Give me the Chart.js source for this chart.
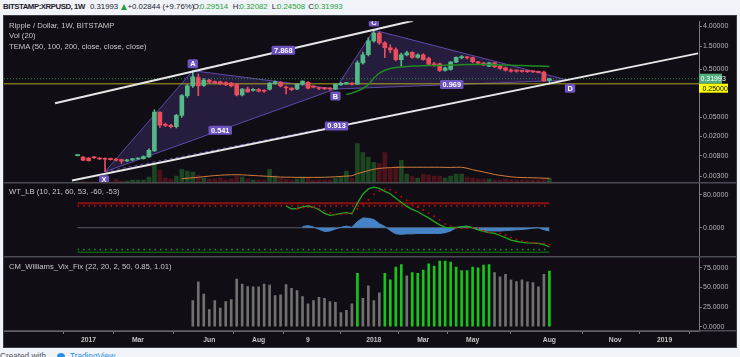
<!DOCTYPE html>
<html><head><meta charset="utf-8">
<script src="https://cdn.jsdelivr.net/npm/chart.js@4.4.1/dist/chart.umd.min.js"></script>
<style>
html,body{margin:0;padding:0;background:#f0f3f7;width:740px;height:357px;overflow:hidden;font-family:"Liberation Sans",Arial,sans-serif;}
#wrap{position:absolute;left:4px;top:16px;width:732px;height:331px;box-shadow:0 0 0 1px #3c3c44;}
canvas{display:block}
.t{position:absolute;white-space:nowrap;line-height:1;}
.h{position:absolute;white-space:nowrap;line-height:1;top:3.4px;font-size:7.8px;color:#1e222d;}
.g{color:#22a33a;}
.lg{font-size:7.7px;color:#c8c8c8;}
.tri{position:absolute;left:120.5px;top:4px;width:0;height:0;border-left:3px solid transparent;border-right:3px solid transparent;border-bottom:6px solid #22a33a;}
</style></head>
<body>
<div class="h" style="left:3px;font-weight:bold;letter-spacing:-0.45px;">BITSTAMP:XRPUSD, 1W</div>
<div class="h" style="left:90px;">0.31993</div>
<div class="tri"></div>
<div class="h" style="left:127.5px;">+0.02844 (+9.76%)</div>
<div class="h" style="left:192.7px;">O:</div><div class="h g" style="left:200px;">0.29514</div>
<div class="h" style="left:232.7px;">H:</div><div class="h g" style="left:239.5px;">0.32082</div>
<div class="h" style="left:271.7px;">L:</div><div class="h g" style="left:277px;">0.24508</div>
<div class="h" style="left:308.3px;">C:</div><div class="h g" style="left:314.5px;">0.31993</div>

<div id="wrap"><canvas id="c" width="732" height="331"></canvas></div>

<div class="t lg" style="left:9px;top:22.3px;">Ripple / Dollar, 1W, BITSTAMP</div>
<div class="t lg" style="left:9px;top:32.3px;">Vol (20)</div>
<div class="t lg" style="left:9px;top:43px;">TEMA (50, 100, 200, close, close, close)</div>
<div class="t lg" style="left:9px;top:187.6px;">WT_LB (10, 21, 60, 53, -60, -53)</div>
<div class="t lg" style="left:9px;top:262.6px;">CM_Williams_Vix_Fix (22, 20, 2, 50, 0.85, 1.01)</div>

<div class="t" style="left:0px;top:352.9px;font-size:8.2px;color:#50535e;">Created with</div>
<div class="t" style="left:57px;top:353px;width:8px;height:6px;border-radius:4px 4px 0 0;background:#2a8fe0;"></div>
<div class="t" style="left:70px;top:352.9px;font-size:8.2px;color:#2a8fe0;">TradingView</div>

<script>
// ---------------- DATA (weekly, index 0 = week of 2016-12-19) ----------------
const weekStart = '2016-12-19';
const open = [0.0080,0.0074,0.0071,0.0075,0.0071,0.0070,0.0069,0.0068,0.0066,0.0062,
 0.0065,0.0068,0.0069,0.0075,0.0100,0.064,0.036,0.034,0.032,0.055,
 0.142,0.227,0.338,0.232,0.30,0.28,0.275,0.265,0.26,0.24,
 0.147,0.195,0.183,0.19,0.18,0.194,0.255,0.27,0.215,0.205,
 0.195,0.246,0.27,0.224,0.21,0.205,0.203,0.194,0.24,0.25,
 0.26,0.245,0.686,1.01,1.96,2.87,1.79,1.41,1.30,0.80,
 1.00,1.13,0.893,1.01,0.84,0.654,0.65,0.477,0.50,0.71,
 0.88,0.89,0.88,0.72,0.68,0.584,0.686,0.584,0.542,0.484,
 0.47,0.465,0.455,0.45,0.449,0.44,0.29514];
const high = [0.0083,0.0076,0.0073,0.0077,0.0073,0.0072,0.0071,0.0070,0.0068,0.0067,
 0.0070,0.0072,0.0079,0.0110,0.072,0.066,0.038,0.036,0.058,0.150,
 0.24,0.47,0.40,0.32,0.31,0.29,0.285,0.275,0.27,0.255,
 0.20,0.215,0.20,0.20,0.19,0.265,0.29,0.28,0.225,0.21,
 0.25,0.29,0.28,0.23,0.215,0.21,0.21,0.25,0.265,0.27,
 0.265,0.75,1.15,2.3,3.30,2.95,1.90,1.62,1.40,1.10,
 1.20,1.17,1.05,1.05,0.90,0.70,0.68,0.56,0.74,0.91,
 0.97,0.94,0.90,0.74,0.70,0.70,0.70,0.60,0.56,0.51,
 0.49,0.48,0.47,0.46,0.46,0.46,0.32082];
const low = [0.0079,0.0063,0.0061,0.0070,0.0066,0.0037,0.0064,0.0062,0.0055,0.0060,
 0.0063,0.0066,0.0067,0.0073,0.0098,0.031,0.032,0.030,0.030,0.050,
 0.13,0.21,0.142,0.22,0.26,0.25,0.24,0.23,0.215,0.14,
 0.14,0.165,0.175,0.17,0.165,0.185,0.245,0.215,0.154,0.18,
 0.19,0.235,0.195,0.205,0.19,0.19,0.185,0.19,0.232,0.245,
 0.235,0.24,0.64,0.95,1.85,1.65,0.88,1.10,0.75,0.58,
 0.95,0.85,0.85,0.78,0.60,0.58,0.45,0.46,0.48,0.69,
 0.83,0.83,0.68,0.64,0.60,0.57,0.54,0.50,0.46,0.44,
 0.44,0.44,0.43,0.43,0.42,0.28,0.24508];
const close = [0.0081,0.0064,0.0063,0.0072,0.0068,0.0067,0.0066,0.0064,0.0061,0.0065,
 0.0068,0.0070,0.0076,0.0103,0.0648,0.0344,0.034,0.032,0.055,0.142,
 0.227,0.348,0.227,0.298,0.27,0.26,0.25,0.24,0.227,0.147,
 0.195,0.17,0.19,0.175,0.175,0.258,0.275,0.225,0.205,0.19,
 0.246,0.284,0.204,0.212,0.20,0.198,0.195,0.246,0.255,0.265,
 0.245,0.686,1.01,1.96,2.87,1.79,1.41,1.28,0.80,1.01,
 1.11,0.893,1.01,0.80,0.633,0.62,0.477,0.542,0.71,0.893,
 0.893,0.87,0.72,0.67,0.62,0.686,0.568,0.524,0.484,0.46,
 0.46,0.455,0.45,0.445,0.434,0.288,0.31993];
// volume (millions XRP, estimated)
const volume = [20,30,20,20,20,40,20,80,40,40, 60,60,60,120,360,260,100,80,140,280,
 240,220,160,100,80,80,100,60,80,140, 120,80,60,60,60,280,140,100,80,60,
 80,120,100,60,60,60,60,100,120,240, 100,800,620,520,420,400,620,300,340,460,
 180,140,100,180,160,140,140,100,140,180, 180,120,100,80,80,80,60,60,80,60,
 60,60,60,60,60,80,100];
const volMAStart = 19;
const volMA = [86,96,106,116,128,140,150,158,164,168, 168,166,160,152,146,140,134,126,120,118,
 116,114,114,114,114,114,116,120,126,134, 140,146,190,220,250,280,296,306,312,316,
 320,320,320,320,320,320,320,320,318,316, 320,320,300,270,246,224,200,172,156,140,
 124,116,110,108,106,102,98,94];
const temaStart = 49;
const tema = [0.150,0.160,0.177,0.200,0.240,0.33,0.42,0.48,0.52,0.545,
 0.56,0.575,0.585,0.59,0.595,0.60,0.60,0.605,0.61,0.615,
 0.62,0.625,0.63,0.632,0.633,0.632,0.63,0.625,0.62,0.615,
 0.61,0.605,0.60,0.595,0.59,0.585,0.58,0.575];
const lastPrice = 0.31993;
const alertLevel = 0.25;
// XABCD pattern points [week index, price] and ratios
const patternPts = {X:[5,0.0037], A:[21,0.47], B:[47,0.195], C:[54,3.30], D:[89.4,0.298]};
const ratioPairs = [['X','B'],['A','C'],['B','D'],['X','D']];
const ratioLabels = ['0.541','7.868','0.969','0.913'];
// parallel channel lines [week index, price]
const channelUpper = [[-4.12,0.0982],[61.14,5.17]];
const channelLower = [[-1.02,0.00242],[113.1,1.079]];
// WT_LB
const wtLevels = [60, 53, -53, -60];
const wt1Start = 38;
const wt1 = [53,46,47,51,53,50,44,35,30,32, 35,37,34,60,82,95,99,96,89,83,
 72,62,52,45,39,31,24,15,7,1, 0,1,2,3,0,-5,-9,-12,-14,-19,
 -24,-30,-33,-36,-37,-37.5,-38,-41,-47];
const wt2Start = 40;
const wt2 = [46,49,50,50,47,42,36,33,33,34, 37,46,58,68,82,90,94,93,86,76,
 67,58,50,43,36,28,19,9,4,-1, -2,-1.5,0,-1.5,-7,-11,-10,-14,-18,-24,
 -28,-32,-35,-37,-38,-38.5,-41.5];
const histStart = 41;
const wtHist = [3,5,2,-4,-9,-8,-3,1,4,1, 15,24,23,20,10,3,-7,-15,-16,-15,
 -15,-14,-14,-14,-14,-14,-12,-8,0,3, 4,-1,-4,-7,-8,-8,-8,-7,-6,-5,
 -4,-3,-1,0,-5,-8];
// CM_Williams_Vix_Fix
const vixStart = 21;
const vix = [33.4,57.1,41.7,21.7,33.4,23.7,32.1,34.6,60.5,54.2,
 51.2,50.9,50.9,54.2,53,39.6,40.5,53.7,48.7,45.9,
 38.4,29.2,33.4,37.5,36.2,32.1,31.2,18,20.9,29.2,
 68,36.2,52.1,33.4,43,68,59.6,75.9,79.2,64.6,
 68.8,68,72.1,80,77.1,83.4,83.4,82.1,75.9,71.3,
 71.3,75.9,75,78.4,79.2,68.8,63.4,66.7,59.6,57.5,
 59.6,57.1,56.2,50.9,66.7,70.9];
const vixSignal = [0,0,0,0,0,0,0,0,0,0, 0,0,0,0,0,0,0,0,0,0, 0,0,0,0,0,0,0,0,0,0,
 1,0,0,0,0,1,1,1,1,0, 1,1,1,1,1,1,1,1,1,1, 1,1,1,1,1,0,0,0,0,0, 0,0,0,0,0,1];
// axis ticks
const priceTicks = [4, 1.5, 0.5, 0.05, 0.02, 0.008, 0.003];
const wtTicks = [80, 0];
const vixTicks = [75, 50, 25, 0];
const timeTickIdx = [2, 11, 24, 33, 42, 54, 63, 72, 86, 98, 107];
const timeTickLbl = ['2017','Mar','Jun','Aug','9','2018','Mar','May','Aug','Nov','2019'];

// ---------------- VIEW RANGES ----------------
const xMin = -13.416, xMax = 113.27;
const priceMin = 0.002148, priceMax = 5.0485;
const wtMin = -70.87, wtMax = 109.3;
const vixMin = -5.375, vixMax = 89;
const volMin = -3010, volMax = 3290;

// ---------------- STYLE ----------------
const FONT = '"Liberation Sans", Arial, sans-serif';
const BG = '#100d14';
const UP = '#53b987', DN = '#eb4d5c';
const PURPLE_LINE = '#5e4aa6', PURPLE_FILL = 'rgba(112,76,205,0.23)', TAG = '#6c53c0';
Chart.defaults.font.family = FONT;

const idx = open.map((_, i) => i);
const up = i => close[i] >= open[i];
const series = (arr, start) => arr.map((v, k) => ({x: start + k, y: v}));
const pt = k => ({x: patternPts[k][0], y: patternPts[k][1]});
const hline = (y, x0, x1) => [{x: x0, y}, {x: x1, y}];

const rightAxis = (extra) => Object.assign({
  position: 'right', stack: 'pane', bounds: 'data',
  afterFit: s => { s.width = 37; },
  grid: {drawOnChartArea: false, tickLength: 3, color: '#7a7a7a'},
  border: {color: '#7a7a7a'},
}, extra);

function tag(g, cx, cy, text, minW) {
  g.font = 'bold 7.4px ' + FONT;
  const w = Math.max(minW || 0, g.measureText(text).width + 5), h = 9;
  g.fillStyle = TAG;
  g.beginPath();
  g.roundRect(cx - w / 2, cy - h / 2, w, h, 1.5);
  g.fill();
  g.fillStyle = '#ffffff';
  g.textAlign = 'center'; g.textBaseline = 'middle';
  g.fillText(text, cx, cy + 0.5);
}

const ui = {
  id: 'ui',
  beforeDraw(c) {
    const g = c.ctx; g.save(); g.fillStyle = BG; g.fillRect(0, 0, c.width, c.height); g.restore();
  },
  afterDatasetsDraw(c) {
    const g = c.ctx, sx = c.scales.x, sy = c.scales.y, a = c.chartArea;
    const P = k => [sx.getPixelForValue(patternPts[k][0]), sy.getPixelForValue(patternPts[k][1])];
    g.save();
    g.beginPath(); g.rect(a.left, a.top, a.width, sy.bottom - a.top); g.clip();
    ratioPairs.forEach(([p, q], k) => {
      const m = P(p), n = P(q);
      tag(g, (m[0] + n[0]) / 2, (m[1] + n[1]) / 2, ratioLabels[k]);
    });
    const off = {X: [-1, 8], A: [0, -7], B: [0, 7], C: [0, -8], D: [2, 8]};
    Object.keys(patternPts).forEach(k => {
      const m = P(k); tag(g, m[0] + off[k][0], m[1] + off[k][1], k, 8);
    });
    g.restore();
  },
  afterDraw(c) {
    const g = c.ctx, sy = c.scales.y, sw = c.scales.yw, a = c.chartArea;
    g.save();
    g.fillStyle = '#4a4a52';
    [sy.bottom, sw.bottom, a.bottom].forEach(y => g.fillRect(0, Math.round(y) - 1, c.width, 1.5));
    // price labels on axis
    const x0 = sy.left;
    const yp = sy.getPixelForValue(lastPrice);
    g.fillStyle = '#4fae7c';
    g.fillRect(x0, yp - 5, 23, 10);
    g.font = '7px ' + FONT; g.textAlign = 'left'; g.textBaseline = 'middle';
    g.fillStyle = '#ffffff';
    g.fillText(lastPrice.toFixed(5), x0 + 1.5, yp + 0.5);
    let ya = sy.getPixelForValue(alertLevel);
    ya = Math.max(ya, yp + 5 + 4.5);
    g.fillStyle = '#ffff00';
    g.fillRect(x0, ya - 4.5, 29, 9);
    g.fillStyle = '#000000';
    g.fillText(alertLevel.toFixed(5), x0 + 3.5, ya + 0.5);
    g.restore();
  }
};

const datasets = [
  // volume
  {type: 'bar', yAxisID: 'yv', data: idx.map(i => ({x: i, y: volume[i]})),
   backgroundColor: idx.map(i => up(i) ? '#1c4522' : '#4c121b'), barThickness: 4, grouped: false, order: 100},
  {type: 'line', yAxisID: 'yv', data: series(volMA, volMAStart), borderColor: '#d07b3c', borderWidth: 1, pointRadius: 0, order: 95},
  // pattern triangles
  {type: 'line', yAxisID: 'y', data: [pt('X'), pt('A'), pt('B'), pt('X')], borderColor: PURPLE_LINE, borderWidth: 1,
   backgroundColor: PURPLE_FILL, fill: 'shape', pointRadius: 0, order: 90},
  {type: 'line', yAxisID: 'y', data: [pt('B'), pt('C'), pt('D'), pt('B')], borderColor: PURPLE_LINE, borderWidth: 1,
   backgroundColor: PURPLE_FILL, fill: 'shape', pointRadius: 0, order: 90},
  {type: 'line', yAxisID: 'y', data: [pt('A'), pt('C')], borderColor: PURPLE_LINE, borderWidth: 1, borderDash: [3, 3], pointRadius: 0, order: 89},
  {type: 'line', yAxisID: 'y', data: [pt('X'), pt('D')], borderColor: PURPLE_LINE, borderWidth: 1, borderDash: [3, 3], pointRadius: 0, order: 89},
  // price lines
  {type: 'line', yAxisID: 'y', data: hline(alertLevel, xMin, xMax), borderColor: '#b3a51e', borderWidth: 1, pointRadius: 0, order: 80},
  {type: 'line', yAxisID: 'y', data: hline(lastPrice, xMin, xMax), borderColor: '#2b8a4a', borderWidth: 1, borderDash: [1, 2], pointRadius: 0, order: 80},
  // candles
  {type: 'bar', yAxisID: 'y', data: idx.map(i => ({x: i, y: [low[i], high[i]]})),
   backgroundColor: idx.map(i => up(i) ? UP : DN), barThickness: 1, grouped: false, order: 70},
  {type: 'bar', yAxisID: 'y', data: idx.map(i => ({x: i, y: [open[i], close[i]]})),
   backgroundColor: idx.map(i => up(i) ? UP : DN), barThickness: 4, minBarLength: 1, grouped: false, order: 65},
  // TEMA
  {type: 'line', yAxisID: 'y', data: series(tema, temaStart), borderColor: '#1d8c21', borderWidth: 1.5, pointRadius: 0, order: 60},
  // channel
  {type: 'line', yAxisID: 'y', data: channelUpper.map(([x, y]) => ({x, y})), borderColor: '#e6e6e6', borderWidth: 2, pointRadius: 0, order: 50},
  {type: 'line', yAxisID: 'y', data: channelLower.map(([x, y]) => ({x, y})), borderColor: '#e6e6e6', borderWidth: 2, pointRadius: 0, order: 50},
  // WT pane
  {type: 'line', yAxisID: 'yw', data: hline(0, 0, 86), borderColor: '#5a5a62', borderWidth: 1, pointRadius: 0, order: 49},
  {type: 'line', yAxisID: 'yw', data: series(wtHist, histStart), borderColor: '#4583c6', borderWidth: 1, backgroundColor: '#4583c6',
   fill: {value: 0}, pointRadius: 0, order: 48},
  {type: 'line', yAxisID: 'yw', data: hline(wtLevels[0], 0, 86), borderColor: '#8a1111', borderWidth: 2, pointRadius: 0, order: 47},
  {type: 'line', yAxisID: 'yw', data: hline(wtLevels[1], 0, 86), borderColor: '#d40f0f', borderWidth: 1.5, borderDash: [1.5, 3.986], pointRadius: 0, order: 47},
  {type: 'line', yAxisID: 'yw', data: hline(wtLevels[2], 0, 86), borderColor: '#1c9a1c', borderWidth: 1.5, borderDash: [1.5, 3.986], pointRadius: 0, order: 47},
  {type: 'line', yAxisID: 'yw', data: hline(wtLevels[3], 0, 86), borderColor: '#0f5c12', borderWidth: 1.5, pointRadius: 0, order: 47},
  {type: 'line', yAxisID: 'yw', data: series(wt1, wt1Start), borderColor: '#22a822', borderWidth: 1.3, pointRadius: 0, order: 45},
  {type: 'line', yAxisID: 'yw', data: series(wt2, wt2Start), showLine: false, pointStyle: 'rect', pointRadius: 1.1,
   pointBackgroundColor: '#e00000', pointBorderWidth: 0, order: 44},
  // Vix fix
  {type: 'bar', yAxisID: 'yx', data: series(vix, vixStart),
   backgroundColor: vixSignal.map(s => s ? '#18c418' : '#707070'), barThickness: 2, grouped: false, order: 40},
];

new Chart(document.getElementById('c'), {
  type: 'bar',
  data: {datasets},
  options: {
    responsive: false, animation: false, devicePixelRatio: 1, events: [],
    layout: {padding: 0, autoPadding: false},
    plugins: {legend: {display: false}, tooltip: {enabled: false}},
    scales: {
      x: {type: 'linear', position: 'bottom', min: xMin, max: xMax, bounds: 'data', offset: false,
          afterBuildTicks: s => { s.ticks = timeTickIdx.map(v => ({value: v})); },
          afterFit: s => { s.height = 16; },
          ticks: {callback: v => timeTickLbl[timeTickIdx.indexOf(v)], color: '#c4c4c4',
                  font: {size: 6.8, weight: 'bold'}, maxRotation: 0, minRotation: 0, autoSkip: false, padding: 2},
          grid: {drawOnChartArea: false, tickLength: 3, color: '#7a7a7a'},
          border: {color: '#7a7a7a'}},
      y: rightAxis({type: 'logarithmic', stackWeight: 164.5, min: priceMin, max: priceMax,
          afterBuildTicks: s => { s.ticks = priceTicks.map(v => ({value: v})); },
          ticks: {callback: v => Number(v).toFixed(5), color: '#b4b4b4', font: {size: 7}, padding: 1, autoSkip: false}}),
      yw: rightAxis({type: 'linear', stackWeight: 75, min: wtMin, max: wtMax,
          afterBuildTicks: s => { s.ticks = wtTicks.map(v => ({value: v})); },
          ticks: {callback: v => Number(v).toFixed(4), color: '#b4b4b4', font: {size: 7}, padding: 1, autoSkip: false}}),
      yx: rightAxis({type: 'linear', stackWeight: 75.5, min: vixMin, max: vixMax,
          afterBuildTicks: s => { s.ticks = vixTicks.map(v => ({value: v})); },
          ticks: {callback: v => Number(v).toFixed(4), color: '#b4b4b4', font: {size: 7}, padding: 1, autoSkip: false}}),
      yv: {type: 'linear', position: 'left', display: false, min: volMin, max: volMax, bounds: 'data'}
    }
  },
  plugins: [ui]
});
</script>
</body></html>
